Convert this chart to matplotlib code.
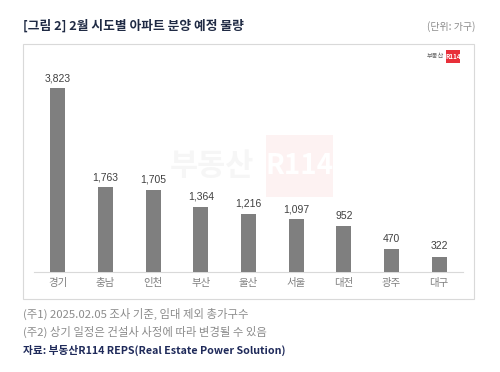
import matplotlib
matplotlib.use("Agg")
import matplotlib.pyplot as plt
from matplotlib.patches import Rectangle

plt.rcParams['font.family'] = ['Noto Sans CJK KR', 'DejaVu Sans']

categories = ["경기", "충남", "인천", "부산", "울산", "서울", "대전", "광주", "대구"]
values = [3823, 1763, 1705, 1364, 1216, 1097, 952, 470, 322]
value_labels = ["3,823", "1,763", "1,705", "1,364", "1,216", "1,097", "952", "470", "322"]

W, H = 500, 372
fig = plt.figure(figsize=(5, 3.72), dpi=100)
fig.patch.set_facecolor("white")

def fx(x): return x / W
def fy(y): return 1 - y / H

# outer box
fig.patches.append(Rectangle((fx(23), fy(299)), (474 - 23) / W, (299 - 44) / H,
                             transform=fig.transFigure, fill=False,
                             edgecolor="#d9d9d9", linewidth=0.8))

# title
fig.text(fx(23), fy(26), "[그림 2] 2월 시도별 아파트 분양 예정 물량", fontsize=9.2,
         fontweight="bold", color="#1f2a44", va="center", ha="left")
fig.text(fx(475), fy(27), "(단위: 가구)", fontsize=7.2, color="#8c8c8c", va="center", ha="right")

# watermark
fig.text(fx(212), fy(166), "부동산", fontsize=22, fontweight="bold", color="#f6f6f6",
         ha="center", va="center", zorder=0)
fig.patches.append(Rectangle((fx(266), fy(197)), 67 / W, 62 / H, transform=fig.transFigure,
                             facecolor="#fdf2f2", edgecolor="none", zorder=0))
fig.text(fx(300), fy(166), "R114", fontsize=20, fontweight="bold", color="white",
         ha="center", va="center", zorder=1)

# axes
ax = fig.add_axes([fx(34), fy(272), (463 - 34) / W, (272 - 56) / H])
ax.set_facecolor("none")
x = list(range(len(categories)))
ax.bar(x, values, width=0.31, color="#7f7f7f", zorder=3)
ax.set_xlim(-0.5, len(categories) - 0.5)
ax.set_ylim(0, 4500)
for xi, v, lab in zip(x, values, value_labels):
    ax.text(xi, v + 110, lab, ha="center", va="bottom", fontsize=7.5, color="#404040",
            family=["Liberation Sans", "DejaVu Sans"])
ax.set_xticks(x)
ax.set_xticklabels(categories, fontsize=7.5, color="#7f7f7f")
ax.tick_params(axis="x", length=0, pad=4)
ax.set_yticks([])
for s in ["top", "right", "left"]:
    ax.spines[s].set_visible(False)
ax.spines["bottom"].set_color("#d9d9d9")
ax.spines["bottom"].set_linewidth(0.8)

# logo top-right
fig.text(fx(444), fy(56), "부동산", fontsize=4.5, color="#666666", ha="right", va="center")
fig.patches.append(Rectangle((fx(446), fy(63)), 14 / W, 13 / H, transform=fig.transFigure,
                             facecolor="#e8303a", edgecolor="none"))
fig.text(fx(453), fy(56.5), "R114", fontsize=4.5, fontweight="bold", color="white",
         ha="center", va="center")

# footnotes
fig.text(fx(23), fy(314), "(주1) 2025.02.05 조사 기준, 임대 제외 총가구수", fontsize=8.2,
         color="#8c8c8c", ha="left", va="center")
fig.text(fx(23), fy(332), "(주2) 상기 일정은 건설사 사정에 따라 변경될 수 있음", fontsize=8.2,
         color="#8c8c8c", ha="left", va="center")
fig.text(fx(23), fy(350), "자료: 부동산R114 REPS(Real Estate Power Solution)", fontsize=7.7,
         fontweight="bold", color="#1f2a5a", ha="left", va="center")

fig.savefig("out.png", dpi=100)
